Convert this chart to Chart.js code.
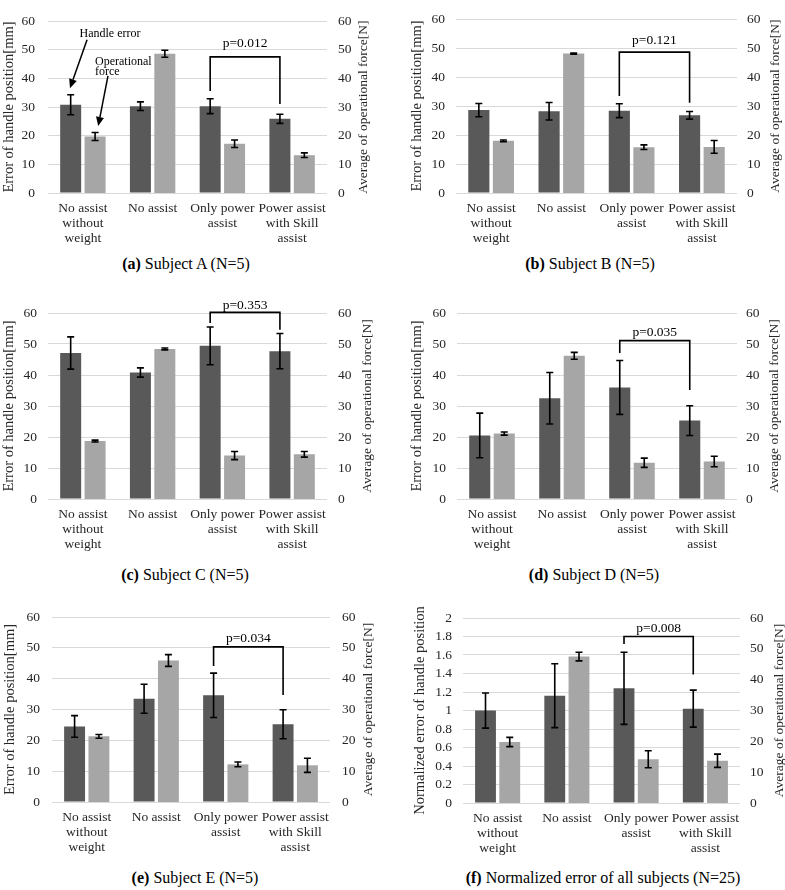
<!DOCTYPE html>
<html><head><meta charset="utf-8">
<script src="https://cdn.jsdelivr.net/npm/chart.js@4.4.1/dist/chart.umd.min.js"></script>
<style>
html,body{margin:0;padding:0;background:#fff;}
#wrap{position:relative;width:785px;height:890px;overflow:hidden;background:#fff;}
#wrap canvas{position:absolute;}
.cap{position:absolute;font-family:"Liberation Serif","DejaVu Serif","Noto Serif",serif;font-size:16px;color:#000;white-space:nowrap;transform:translate(-50%,-50%);}
.cap b{font-weight:bold;}
</style></head><body><div id="wrap"></div>
<script>
// ---------- data ----------
const categories = [["No assist","without","weight"], "No assist", ["Only power","assist"], ["Power assist","with Skill","assist"]];
const leftTicks60 = [0,10,20,30,40,50,60];
const leftTicksNorm = [0,0.2,0.4,0.6,0.8,1,1.2,1.4,1.6,1.8,2];

const errA = [30.8, 30.3, 30.3, 25.9];   const errSdA = [3.5, 1.5, 2.6, 1.6];
const forceA = [19.7, 48.6, 17.2, 13.2]; const forceSdA = [1.4, 1.2, 1.3, 0.8];

const errB = [28.6, 28.2, 28.4, 26.8];   const errSdB = [2.3, 3.0, 2.4, 1.3];
const forceB = [18.0, 48.1, 15.8, 15.9]; const forceSdB = [0.3, 0.2, 0.8, 2.2];

const errC = [47.1, 40.8, 49.4, 47.7];   const errSdC = [5.2, 1.5, 6.1, 5.7];
const forceC = [18.7, 48.4, 14.0, 14.4]; const forceSdC = [0.3, 0.3, 1.3, 0.9];

const errD = [20.5, 32.5, 36.0, 25.3];   const errSdD = [7.2, 8.3, 8.7, 4.8];
const forceD = [21.1, 46.2, 11.7, 12.1]; const forceSdD = [0.5, 1.1, 1.5, 1.7];

const errE = [24.5, 33.5, 34.6, 25.2];   const errSdE = [3.5, 4.7, 7.2, 4.7];
const forceE = [21.3, 45.9, 12.2, 11.9]; const forceSdE = [0.6, 1.9, 0.75, 2.3];

const errAll = [1.00, 1.16, 1.24, 1.02];  const errSdAll = [0.19, 0.345, 0.39, 0.2];
const forceAll = [19.8, 47.5, 14.2, 13.7]; const forceSdAll = [1.5, 1.4, 2.75, 2.15];

// brackets: [fromCategory, toCategory, barY, leftLegEnd, rightLegEnd, textY]
const bracketA = [2, 3, 47.5, 35.6, 31.1, 52.3]; const pA = "p=0.012";
const bracketB = [2, 3, 48.6, 33.5, 31.1, 52.5]; const pB = "p=0.121";
const bracketC = [2, 3, 60.2, 56.8, 54.6, 62.4]; const pC = "p=0.353";
const bracketD = [2, 3, 51.1, 47.1, 35.2, 53.6]; const pD = "p=0.035";
const bracketE = [2, 3, 50.3, 44.1, 34.7, 53.0]; const pE = "p=0.034";
const bracketF = [2, 3, 1.80, 1.72, 1.39, 1.885]; const pF = "p=0.008";

// annotation arrows in panel (a): [fromCat, fromVal, toCat, toVal]
const arrowHandle = [0.06, 53.5, -0.185, 36.6];
const arrowForce = [0.36, 40.9, 0.22, 23.4];
// annotation labels in panel (a): [text, cat, val, align]
const noteHandle = ["Handle error", 0.389, 55.5, "center"];
const noteForce1 = ["Operational", 0.174, 45.7, "left"];
const noteForce2 = ["force", 0.174, 42.2, "left"];

const titleErr = "Error of handle position[mm]";
const titleNorm = "Normalized error of handle position";
const titleForce = "Average of operational force[N]";

// ---------- styles / layout ----------
const FONT = '"Liberation Serif", "DejaVu Serif", "Noto Serif", serif';
const DARK = '#595959', LIGHT = '#a6a6a6', GRID = '#d9d9d9', TXT = '#262626';

const panels = [
  {err: errA, errSd: errSdA, force: forceA, forceSd: forceSdA, ticks: leftTicks60, title: titleErr, bracket: bracketA, p: pA,
   notes: [noteHandle, noteForce1, noteForce2], arrows: [arrowHandle, arrowForce], cap: ["(a)", "Subject A (N=5)"],
   lay: {x:0, y:0, w:392, h:250, L:48, R:327, T:8, B:193, lt:8, lp:13, rp:11, rt:36, cx:186, cy:264}},
  {err: errB, errSd: errSdB, force: forceB, forceSd: forceSdB, ticks: leftTicks60, title: titleErr, bracket: bracketB, p: pB,
   notes: [], arrows: [], cap: ["(b)", "Subject B (N=5)"],
   lay: {x:392, y:0, w:393, h:250, L:64, R:345, T:8, B:193, lt:25, lp:11, rp:10, rt:38, cx:590, cy:264}},
  {err: errC, errSd: errSdC, force: forceC, forceSd: forceSdC, ticks: leftTicks60, title: titleErr, bracket: bracketC, p: pC,
   notes: [], arrows: [], cap: ["(c)", "Subject C (N=5)"],
   lay: {x:0, y:290, w:392, h:270, L:48, R:327, T:23, B:209, lt:8, lp:11, rp:11, rt:40, cx:185, cy:575}},
  {err: errD, errSd: errSdD, force: forceD, forceSd: forceSdD, ticks: leftTicks60, title: titleErr, bracket: bracketD, p: pD,
   notes: [], arrows: [], cap: ["(d)", "Subject D (N=5)"],
   lay: {x:392, y:290, w:393, h:270, L:65, R:345, T:23, B:209, lt:25, lp:11, rp:9, rt:37, cx:594, cy:575}},
  {err: errE, errSd: errSdE, force: forceE, forceSd: forceSdE, ticks: leftTicks60, title: titleErr, bracket: bracketE, p: pE,
   notes: [], arrows: [], cap: ["(e)", "Subject E (N=5)"],
   lay: {x:0, y:595, w:392, h:270, L:52, R:330, T:22, B:207, lt:10, lp:12, rp:12, rt:38, cx:195, cy:878}},
  {err: errAll, errSd: errSdAll, force: forceAll, forceSd: forceSdAll, ticks: leftTicksNorm, title: titleNorm, bracket: bracketF, p: pF,
   notes: [], arrows: [], cap: ["(f)", "Normalized error of all subjects (N=25)"],
   lay: {x:392, y:595, w:393, h:270, L:71, R:348, T:23, B:208, lt:28, lp:11, rp:10, rt:39, cx:603, cy:878}}
];

// ---------- plugins ----------
const errorBarPlugin = {
  id: 'errorBars',
  afterDatasetsDraw(chart) {
    const ctx = chart.ctx;
    chart.data.datasets.forEach((ds, di) => {
      if (!ds.errors) return;
      const meta = chart.getDatasetMeta(di);
      const sc = chart.scales[ds.yAxisID];
      meta.data.forEach((el, i) => {
        const v = ds.data[i], e = ds.errors[i];
        const yt = sc.getPixelForValue(v + e), yb = sc.getPixelForValue(v - e);
        ctx.save();
        ctx.strokeStyle = '#000'; ctx.lineWidth = 1.6;
        ctx.beginPath();
        ctx.moveTo(el.x, yt); ctx.lineTo(el.x, yb);
        ctx.moveTo(el.x - 3.5, yt); ctx.lineTo(el.x + 3.5, yt);
        ctx.moveTo(el.x - 3.5, yb); ctx.lineTo(el.x + 3.5, yb);
        ctx.stroke();
        ctx.restore();
      });
    });
  }
};

const annotPlugin = {
  id: 'annot',
  afterDraw(chart, args, o) {
    const ctx = chart.ctx, ys = chart.scales.y, xs = chart.scales.x, r = chart.scales.y1;
    const m0 = chart.getDatasetMeta(0);
    ctx.save();
    // bracket
    const b = o.bracket;
    if (b) {
      const xL = m0.data[b[0]].x, xR = m0.data[b[1]].x;
      const yB = ys.getPixelForValue(b[2]);
      ctx.strokeStyle = '#000'; ctx.lineWidth = 1.6;
      ctx.beginPath();
      ctx.moveTo(xL, ys.getPixelForValue(b[3])); ctx.lineTo(xL, yB);
      ctx.lineTo(xR, yB); ctx.lineTo(xR, ys.getPixelForValue(b[4]));
      ctx.stroke();
      ctx.fillStyle = '#000'; ctx.font = '13.5px ' + FONT;
      ctx.textAlign = 'center'; ctx.textBaseline = 'middle';
      ctx.fillText(o.p, (xL + xR) / 2, ys.getPixelForValue(b[5]));
    }
    // right axis title (reads bottom-to-top)
    ctx.save();
    ctx.translate(r.left + o.rt, (r.top + r.bottom) / 2);
    ctx.rotate(-Math.PI / 2);
    ctx.fillStyle = TXT; ctx.font = '13.5px ' + FONT;
    ctx.textAlign = 'center'; ctx.textBaseline = 'middle';
    ctx.fillText(titleForce, 0, 0);
    ctx.restore();
    // notes
    (o.notes || []).forEach(n => {
      ctx.fillStyle = '#000'; ctx.font = '12px ' + FONT;
      ctx.textAlign = n[3]; ctx.textBaseline = 'middle';
      ctx.fillText(n[0], xs.getPixelForValue(n[1]), ys.getPixelForValue(n[2]));
    });
    // arrows
    (o.arrows || []).forEach(a => {
      const x1 = xs.getPixelForValue(a[0]), y1 = ys.getPixelForValue(a[1]);
      const x2 = xs.getPixelForValue(a[2]), y2 = ys.getPixelForValue(a[3]);
      const ang = Math.atan2(y2 - y1, x2 - x1), len = 9, wid = 4;
      const bx = x2 - len * Math.cos(ang), by = y2 - len * Math.sin(ang);
      ctx.strokeStyle = '#000'; ctx.lineWidth = 1.5;
      ctx.beginPath(); ctx.moveTo(x1, y1); ctx.lineTo(bx, by); ctx.stroke();
      ctx.fillStyle = '#000';
      ctx.beginPath();
      ctx.moveTo(x2, y2);
      ctx.lineTo(bx + wid * Math.sin(ang), by - wid * Math.cos(ang));
      ctx.lineTo(bx - wid * Math.sin(ang), by + wid * Math.cos(ang));
      ctx.closePath(); ctx.fill();
    });
    ctx.restore();
  }
};

// ---------- build ----------
const wrap = document.getElementById('wrap');
panels.forEach(p => {
  const L = p.lay;
  const cv = document.createElement('canvas');
  cv.width = L.w; cv.height = L.h;
  cv.style.left = L.x + 'px'; cv.style.top = L.y + 'px';
  cv.style.width = L.w + 'px'; cv.style.height = L.h + 'px';
  wrap.appendChild(cv);

  const cap = document.createElement('div');
  cap.className = 'cap';
  cap.style.left = L.cx + 'px'; cap.style.top = L.cy + 'px';
  const bEl = document.createElement('b'); bEl.textContent = p.cap[0];
  cap.appendChild(bEl);
  cap.appendChild(document.createTextNode(' ' + p.cap[1]));
  wrap.appendChild(cap);

  const tk = p.ticks;
  const yMax = tk[tk.length - 1], yStep = tk[1] - tk[0];

  new Chart(cv, {
    type: 'bar',
    data: {
      labels: categories,
      datasets: [
        {label: 'Handle error', data: p.err, errors: p.errSd, yAxisID: 'y', backgroundColor: DARK,
         categoryPercentage: 0.7, barPercentage: 0.86},
        {label: 'Operational force', data: p.force, errors: p.forceSd, yAxisID: 'y1', backgroundColor: LIGHT,
         categoryPercentage: 0.7, barPercentage: 0.86}
      ]
    },
    options: {
      responsive: false, animation: false, devicePixelRatio: 1,
      layout: {padding: {top: L.T, left: 0, right: 0, bottom: 0}},
      plugins: {
        legend: {display: false}, tooltip: {enabled: false},
        annot: {bracket: p.bracket, p: p.p, rt: L.rt, notes: p.notes, arrows: p.arrows}
      },
      scales: {
        x: {
          grid: {display: false, drawTicks: false}, border: {display: false},
          ticks: {color: TXT, font: {family: FONT, size: 13.5, lineHeight: 1.12}, padding: 8,
                  maxRotation: 0, minRotation: 0, autoSkip: false},
          afterFit: s => { s.height = L.h - L.B; }
        },
        y: {
          position: 'left', min: 0, max: yMax,
          grid: {color: GRID, lineWidth: 1, drawTicks: false}, border: {display: false},
          ticks: {stepSize: yStep, autoSkip: false, color: TXT, font: {family: FONT, size: 13.5}, padding: L.lp,
                  callback: v => String(+Number(v).toFixed(1))},
          title: {display: true, text: p.title, color: TXT, font: {family: FONT, size: 14.5, lineHeight: 1.2},
                  padding: {top: Math.max(L.lt - 8.7, 0), bottom: 0}},
          afterFit: s => { s.width = L.L; }
        },
        y1: {
          position: 'right', min: 0, max: 60,
          grid: {display: false, drawTicks: false}, border: {display: false},
          ticks: {stepSize: 10, autoSkip: false, color: TXT, font: {family: FONT, size: 13.5}, padding: L.rp},
          afterFit: s => { s.width = L.w - L.R; }
        }
      }
    },
    plugins: [errorBarPlugin, annotPlugin]
  });
});
</script>
</body></html>
